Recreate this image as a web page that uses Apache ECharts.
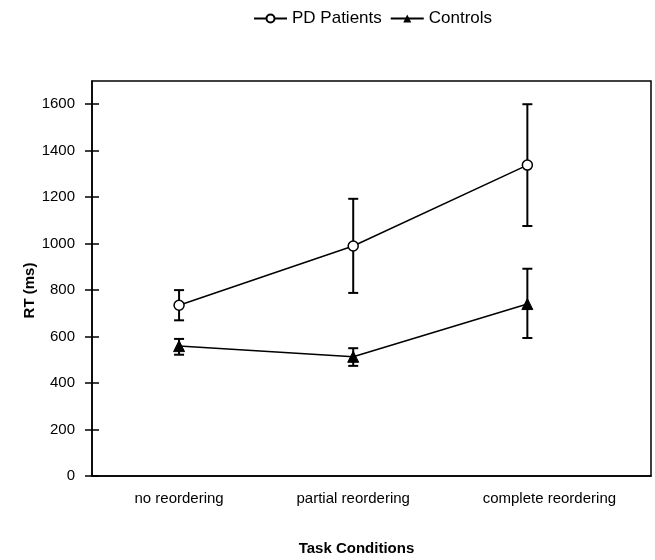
<!DOCTYPE html>
<html>
<head>
<meta charset="utf-8">
<script src="https://cdn.jsdelivr.net/npm/echarts@6/dist/echarts.min.js"></script>
<style>html,body{margin:0;padding:0;background:#fff}#c{width:655px;height:560px}</style>
</head>
<body>
<div id="c"></div>
<script>
const categories = ['no reordering', 'partial reordering', 'complete reordering'];
const pdMean = [735, 990, 1338];
const pdLow = [670, 788, 1076];
const pdHigh = [800, 1193, 1600];
const ctrlMean = [559, 513, 740];
const ctrlLow = [522, 474, 594];
const ctrlHigh = [590, 550, 892];
const yTicks = [0, 200, 400, 600, 800, 1000, 1200, 1400, 1600];
const xTicks = [0, 1, 2];

const FONT = '"Liberation Sans", Arial, sans-serif';

function errData(low, high) {
  return categories.map((c, i) => [i, low[i], high[i]]);
}
function errSeries(name, low, high) {
  return {
    type: 'custom',
    name: name,
    z: 1,
    silent: true,
    data: errData(low, high),
    encode: { x: 0, y: [1, 2] },
    renderItem: function (params, api) {
      const x = api.value(0);
      const lo = api.coord([x, api.value(1)]);
      const hi = api.coord([x, api.value(2)]);
      const hw = 5;
      const st = { stroke: '#000', lineWidth: 2 };
      return {
        type: 'group',
        children: [
          { type: 'line', shape: { x1: lo[0], y1: lo[1], x2: hi[0], y2: hi[1] }, style: st },
          { type: 'line', shape: { x1: lo[0] - hw, y1: lo[1], x2: lo[0] + hw, y2: lo[1] }, style: st },
          { type: 'line', shape: { x1: hi[0] - hw, y1: hi[1], x2: hi[0] + hw, y2: hi[1] }, style: st }
        ]
      };
    }
  };
}

const chart = echarts.init(document.getElementById('c'));
chart.setOption({
  animation: false,
  backgroundColor: '#fff',
  textStyle: { fontFamily: FONT },
  legend: {
    top: 10,
    left: 253,
    padding: 0,
    itemWidth: 33,
    itemHeight: 10,
    itemGap: 8,
    textStyle: { fontFamily: FONT, fontSize: 17, color: '#000' },
    data: ['PD Patients', 'Controls']
  },
  grid: {
    left: 92, right: 4, top: 81, bottom: 84,
    outerBoundsMode: 'none',
    containLabel: false,
    show: true, borderColor: '#000', borderWidth: 1.5, backgroundColor: 'transparent'
  },
  xAxis: {
    type: 'value',
    min: -0.5,
    max: 2.71,
    name: 'Task Conditions',
    nameLocation: 'middle',
    nameGap: 65,
    nameMoveOverlap: false,
    nameTextStyle: { fontFamily: FONT, fontSize: 15, fontWeight: 'bold', color: '#000', padding: [0, 30, 0, 0] },
    axisLine: { onZero: false, lineStyle: { color: '#000', width: 1.5 } },
    axisTick: { show: false },
    splitLine: { show: false },
    axisLabel: {
      customValues: xTicks,
      margin: 15,
      fontFamily: FONT, fontSize: 15, color: '#000',
      formatter: function (v) {
        const i = Math.round(v);
        return i === 2 ? '{s|' + categories[i] + '}' : categories[i];
      },
      rich: { s: { fontFamily: FONT, fontSize: 15, color: '#000', padding: [0, 0, 0, 44] } }
    }
  },
  yAxis: [{
    type: 'value',
    min: 0,
    max: 1700,
    name: 'RT (ms)',
    nameLocation: 'middle',
    nameGap: 55,
    nameMoveOverlap: false,
    nameTextStyle: { fontFamily: FONT, fontSize: 15, fontWeight: 'bold', color: '#000', padding: [0, 24, 0, 0] },
    axisLine: { show: true, onZero: false, lineStyle: { color: '#000', width: 1.5 } },
    axisTick: { show: true, customValues: yTicks, length: 7, lineStyle: { color: '#000', width: 1.5 } },
    splitLine: { show: false },
    axisLabel: { customValues: yTicks, margin: 17, fontFamily: FONT, fontSize: 15, color: '#000', formatter: v => String(v) }
  }, {
    type: 'value',
    min: 0,
    max: 1700,
    position: 'left',
    axisLine: { show: false, onZero: false },
    axisTick: { show: true, inside: true, customValues: yTicks, length: 7, lineStyle: { color: '#000', width: 1.5 } },
    axisLabel: { show: false },
    splitLine: { show: false }
  }],
  series: [
    errSeries('PD err', pdLow, pdHigh),
    errSeries('Ctrl err', ctrlLow, ctrlHigh),
    {
      name: 'PD Patients',
      type: 'line',
      z: 3,
      data: pdMean.map((v, i) => [i, v]),
      symbol: 'circle',
      symbolSize: 10,
      lineStyle: { color: '#000', width: 1.5 },
      itemStyle: { color: '#fff', borderColor: '#000', borderWidth: 1.5 }
    },
    {
      name: 'Controls',
      type: 'line',
      z: 3,
      data: ctrlMean.map((v, i) => [i, v]),
      symbol: 'triangle',
      symbolSize: 11,
      lineStyle: { color: '#000', width: 1.5 },
      itemStyle: { color: '#000', borderColor: '#000' }
    }
  ]
});
</script>
</body>
</html>
